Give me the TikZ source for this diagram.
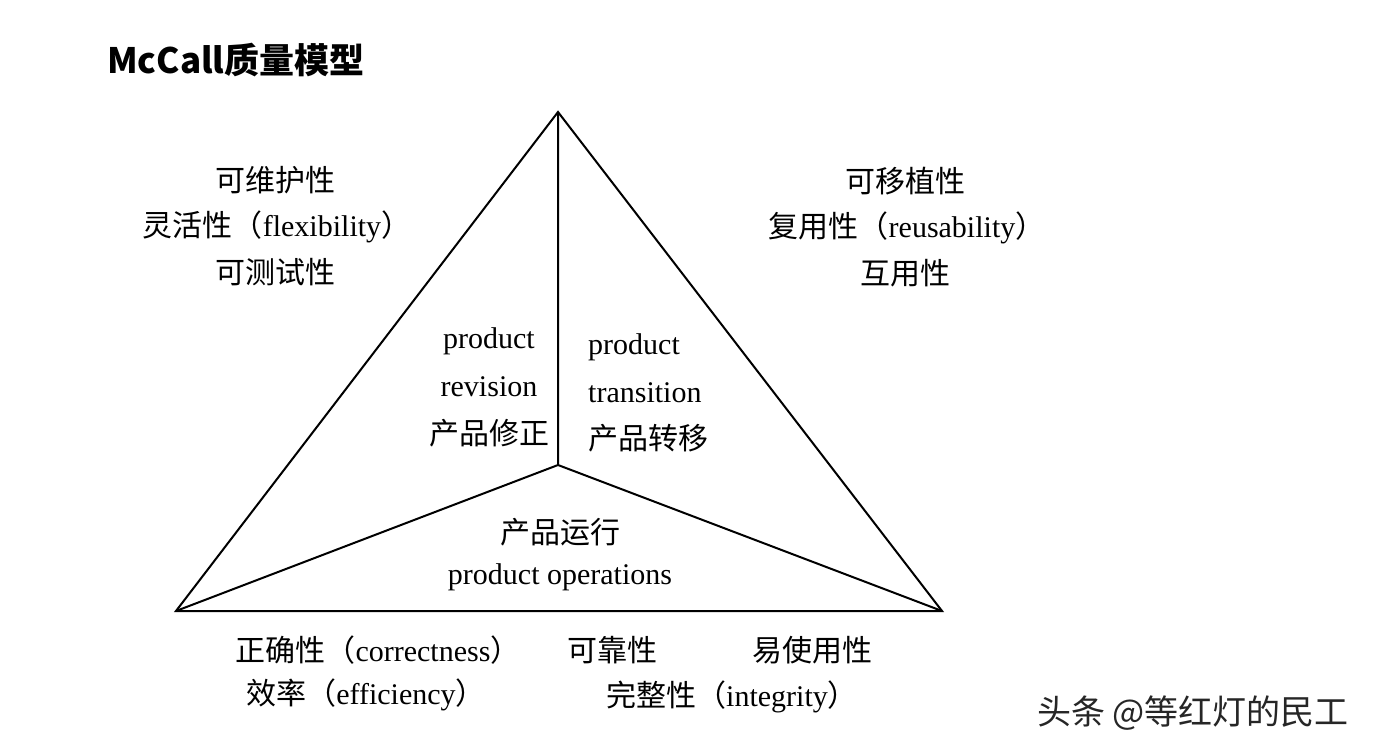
\documentclass[tikz,border=0pt]{standalone}
\usepackage{fontspec}
\setmainfont{Liberation Serif}
\newfontfamily\cjk{Noto Sans CJK SC}
\newcommand{\zh}[1]{{\cjk #1}}
\tikzset{
  lbl/.style={inner sep=1pt,font=\fontsize{30}{34}\selectfont},
  edge/.style={draw=black,line width=2pt,line join=miter}
}
\begin{document}
\begin{tikzpicture}[x=1pt,y=-1pt]
    \useasboundingbox[fill=white] (0,0) rectangle (1384,754);

        % triangle corners
        \coordinate (top) at (558,112);
        \coordinate (bl) at (176,611);
        \coordinate (br) at (942,611);
        \coordinate (mid) at (558,465);
        \draw[edge] (top) -- (bl) -- (br) -- cycle;
        \draw[edge] (mid) -- (top) (mid) -- (bl) (mid) -- (br);

        % title
        \node[anchor=west,inner sep=0pt,font=\fontsize{35}{38}\selectfont\cjk\bfseries] (title) at (107,60) {McCall质量模型};

        % left group
        \node[lbl] (maint) at (275,180) {\zh{可维护性}};
        \node[lbl] (flex) at (277,227) {\zh{灵活性（}flexibility\zh{）}};
        \node[lbl] (test) at (275,272) {\zh{可测试性}};

        % right group
        \node[lbl] (port) at (905,181) {\zh{可移植性}};
        \node[lbl] (reuse) at (907,228) {\zh{复用性（}reusability\zh{）}};
        \node[lbl] (inter) at (905,273) {\zh{互用性}};

        % inner areas
        \node[lbl] (rev1) at (489,341) {product};
        \node[lbl] (rev2) at (489,387) {revision};
        \node[lbl] (rev3) at (489,433) {\zh{产品修正}};
        \node[lbl,anchor=west] (tr1) at (587,347) {product};
        \node[lbl,anchor=west] (tr2) at (587,393) {transition};
        \node[lbl,anchor=west] (tr3) at (587,438) {\zh{产品转移}};
        \node[lbl] (op1) at (560,532) {\zh{产品运行}};
        \node[lbl] (op2) at (560,577) {product operations};

        % bottom group
        \node[lbl] (corr) at (378,650) {\zh{正确性（}correctness\zh{）}};
        \node[lbl] (rel) at (612,650) {\zh{可靠性}};
        \node[lbl] (use) at (812,650) {\zh{易使用性}};
        \node[lbl] (eff) at (366,695) {\zh{效率（}efficiency\zh{）}};
        \node[lbl] (integ) at (732,697) {\zh{完整性（}integrity\zh{）}};

        % watermark
        \node[anchor=west,inner sep=0pt,font=\fontsize{34}{38}\selectfont\cjk,text=black!85] (mark) at (1037,713) {头条 @等红灯的民工};

\end{tikzpicture}
\end{document}
